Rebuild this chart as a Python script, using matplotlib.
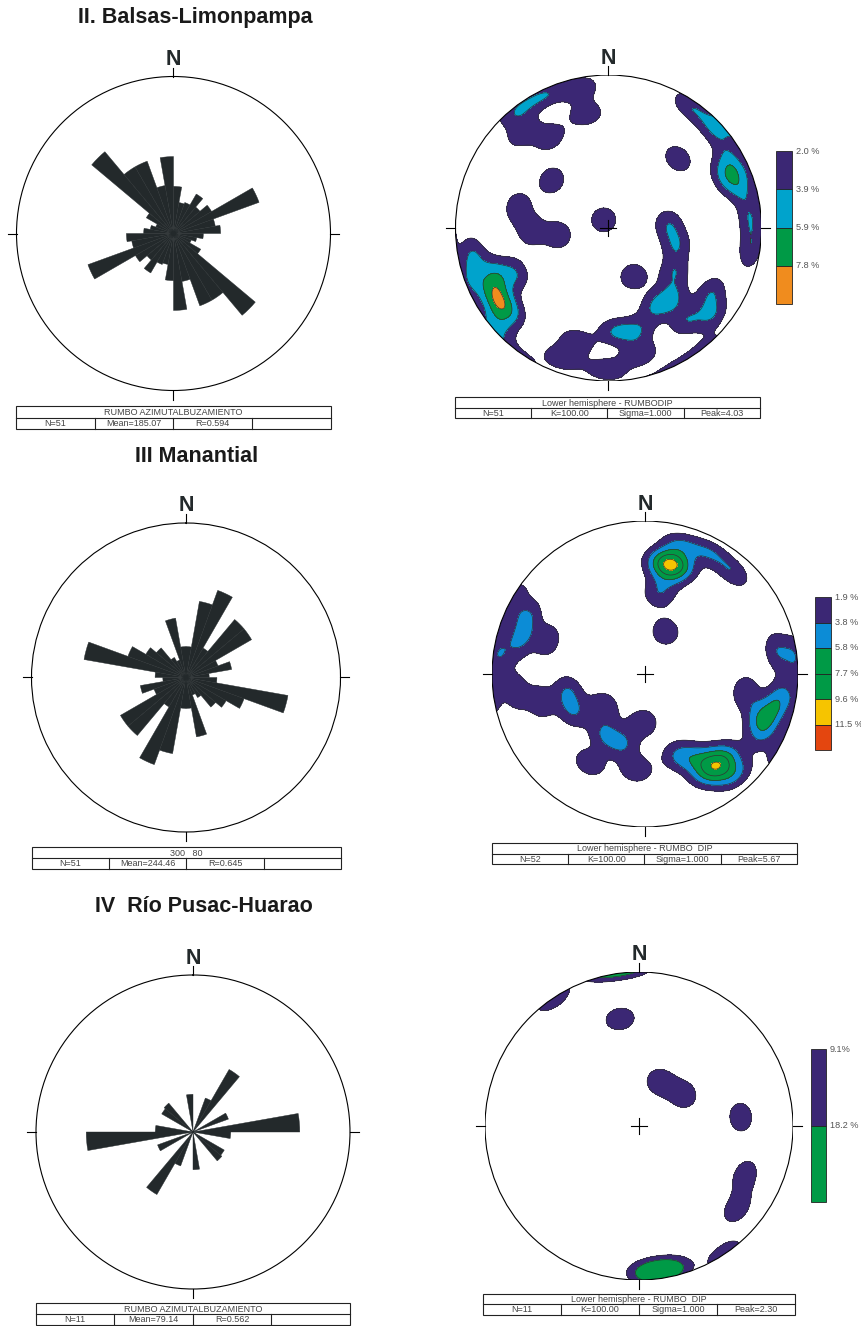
import numpy as np
import matplotlib
matplotlib.use('Agg')
import matplotlib.pyplot as plt
from matplotlib.patches import Circle, Rectangle

W, H = 862, 1326
plt.rcParams['font.family'] = ['Liberation Sans', 'DejaVu Sans']

# ---- data ----
TITLES = ['II. Balsas-Limonpampa', 'III Manantial', 'IV  Río Pusac-Huarao']

# rose diagrams: petal length (fraction of outer circle) per 10 deg strike bin 0..170,
# the diagram is bidirectional so bins 180..350 repeat them
ROSE_BINS = np.arange(0, 180, 10)
ROSE1 = [0.30, 0.20, 0.21, 0.29, 0.22, 0.28, 0.58, 0.27, 0.30, 0.19, 0.15, 0.12, 0.20, 0.68, 0.49, 0.49, 0.31, 0.49]
ROSE2 = [0.20, 0.50, 0.60, 0.22, 0.49, 0.49, 0.22, 0.30, 0.15, 0.20, 0.67, 0.40, 0.30, 0.25, 0.15, 0.12, 0.39, 0.20]
ROSE3 = [0.00, 0.00, 0.23, 0.46, 0.00, 0.00, 0.24, 0.00, 0.68, 0.24, 0.00, 0.00, 0.23, 0.24, 0.00, 0.00, 0.00, 0.24]
ROSE_HEAD = ['RUMBO AZIMUTALBUZAMIENTO', '300   80', 'RUMBO AZIMUTALBUZAMIENTO']
ROSE_STATS = [['N=51', 'Mean=185.07', 'R=0.594', ''],
              ['N=51', 'Mean=244.46', 'R=0.645', ''],
              ['N=11', 'Mean=79.14', 'R=0.562', '']]

# poles to planes (trend, plunge in degrees), lower hemisphere
P1_TREND = [322, 334, 327, 349, 348, 318, 34, 47, 62, 72, 66, 86, 99, 330, 310, 45, 283, 268, 262,
            248, 241, 236, 229, 259, 249, 244, 230,
            86, 104, 124, 138, 149, 153, 122, 130, 140, 165, 177, 196, 200, 181, 166]
P1_PLUNGE = [3, 4, 30, 25, 8, 17, 5, 7, 10, 11, 19, 8, 7, 85, 50, 36, 39, 48, 63,
             22, 17, 13, 5, 11, 6, 33, 18,
             58, 52, 47, 38, 40, 61, 22, 12, 22, 31, 33, 24, 10, 8, 16]
P2_TREND = [8, 18, 13, 13, 10, 15, 28, 41, 26, 285, 296, 289, 299, 278, 80, 83,
            242, 258, 262, 255, 232, 198, 214, 182, 212, 185,
            136, 148, 142, 142, 158, 150, 106, 116, 111, 100, 100, 138]
P2_PLUNGE = [27, 27, 25, 33, 46, 13, 11, 13, 65, 17, 16, 33, 2, 5, 14, 2,
             46, 47, 16, 30, 62, 50, 51, 64, 32, 37,
             25, 25, 20, 30, 43, 36, 15, 15, 23, 10, 34, 12]
P3_TREND = [177, 172, 167, 326, 350, 25, 55, 85, 115, 130]
P3_PLUNGE = [5, 6, 5, 0, 30, 64, 61, 34, 25, 18]

NET_N = [51, 52, 11]
LEVELS = [[2.0, 3.9, 5.9, 7.8],
          [1.9, 3.8, 5.8, 7.7, 9.6, 11.5],
          [9.1, 18.2]]
LEVEL_LABELS = [['2.0 %', '3.9 %', '5.9 %', '7.8 %'],
                ['1.9 %', '3.8 %', '5.8 %', '7.7 %', '9.6 %', '11.5 %'],
                ['9.1%', '18.2 %']]
NET_HEAD = ['Lower hemisphere - RUMBODIP', 'Lower hemisphere - RUMBO  DIP', 'Lower hemisphere - RUMBO  DIP']
NET_STATS = [['N=51', 'K=100.00', 'Sigma=1.000', 'Peak=4.03'],
             ['N=52', 'K=100.00', 'Sigma=1.000', 'Peak=5.67'],
             ['N=11', 'K=100.00', 'Sigma=1.000', 'Peak=2.30']]

PURPLE = '#3b2774'
CYAN = '#00a3cc'
BLUE = '#0c8cd6'
GREEN = '#009a46'
ORANGE = '#f08c1e'
YELLOW = '#f6c400'
RED = '#e4460f'
DARK = '#23292b'
LEVEL_COLORS = [[PURPLE, CYAN, GREEN, ORANGE],
                [PURPLE, BLUE, GREEN, GREEN, YELLOW, RED],
                [PURPLE, GREEN]]

KAPPA = 85.0   # counting kernel concentration
SCALE = 1.7

# ---- layout, pixels from top-left ----
TITLE_XY = [(195, 17), (196.5, 457), (204, 907)]
ROSE_C = [(173.5, 233.5, 157), (186, 677.5, 154.5), (193, 1132, 157)]
NET_C = [(608.5, 228, 153), (645, 674, 153), (639, 1126, 154)]
ROSE_TAB = [(16, 331, 406, 418, 429), (32, 341, 847, 858, 869), (36, 350, 1303, 1314, 1325)]
NET_TAB = [(455, 760, 397, 408, 418), (492, 797, 843, 853.5, 864), (483, 795, 1294, 1304, 1315)]
CBAR = [(776, 792, 151, 304), (815, 831, 597, 750), (811, 826, 1049, 1202)]

fig = plt.figure(figsize=(W / 100, H / 100), dpi=100)
cv = fig.add_axes([0, 0, 1, 1], zorder=-1)
cv.set_xlim(0, W)
cv.set_ylim(H, 0)
cv.axis('off')


def circle_axes(cx, cy, r, **kw):
    return fig.add_axes([(cx - r) / W, 1 - (cy + r) / H, 2 * r / W, 2 * r / H], **kw)


def to_vec(trend, plunge):
    t = np.deg2rad(trend)
    p = np.deg2rad(plunge)
    return np.stack([np.cos(p) * np.sin(t), np.cos(p) * np.cos(t), -np.sin(p)], axis=-1)


def draw_table(box, head, cells):
    x0, x1, y0, ym, y1 = box
    cv.add_patch(Rectangle((x0, y0), x1 - x0, y1 - y0, fill=False, lw=0.8, ec='#222222'))
    cv.plot([x0, x1], [ym, ym], color='#222222', lw=0.8)
    for i in range(1, 4):
        xc = x0 + (x1 - x0) * i / 4
        cv.plot([xc, xc], [ym, y1], color='#222222', lw=0.8)
    cv.text((x0 + x1) / 2, (y0 + ym) / 2 + 0.5, head, ha='center', va='center', fontsize=6.5, color='#444444')
    for i, s in enumerate(cells):
        cv.text(x0 + (x1 - x0) * (i + 0.5) / 4, (ym + y1) / 2 + 0.5, s, ha='center', va='center',
                fontsize=6.5, color='#444444')


def draw_rose(k, lengths):
    cx, cy, r = ROSE_C[k]
    ax = circle_axes(cx, cy, r, projection='polar')
    ax.set_theta_zero_location('N')
    ax.set_theta_direction(-1)
    bins = np.r_[ROSE_BINS, ROSE_BINS + 180] + 5
    ax.bar(np.deg2rad(bins), np.r_[lengths, lengths], width=np.deg2rad(10), bottom=0,
           color=DARK, edgecolor=DARK, linewidth=0.3)
    ax.set_ylim(0, 1)
    ax.grid(False)
    ax.set_xticks([])
    ax.set_yticks([])
    ax.spines['polar'].set_linewidth(0.8)
    for a in [0, 90, 180, 270]:
        ax.plot([np.deg2rad(a)] * 2, [1, 1 + 9 / r], color='k', lw=0.8, clip_on=False)
    ax.text(0, 1 + 17 / r, 'N', ha='center', va='center', fontsize=15.5, fontweight='bold',
            color=DARK, clip_on=False)


def draw_net(k, trend, plunge):
    cx, cy, r = NET_C[k]
    ax = circle_axes(cx, cy, r)
    ax.set_xlim(-1, 1)
    ax.set_ylim(-1, 1)
    ax.axis('off')

    # density of poles on the sphere (axial exponential kernel), in % of poles
    g = np.linspace(-1.02, 1.02, 361)
    X, Y = np.meshgrid(g, g)
    rr = np.clip(np.hypot(X, Y), 0, 1)
    theta = 2 * np.arcsin(rr / np.sqrt(2))
    gv = to_vec(np.rad2deg(np.arctan2(X, Y)), 90 - np.rad2deg(theta))
    pv = to_vec(np.array(trend, float), np.array(plunge, float))
    dots = np.abs(gv.reshape(-1, 3) @ pv.T)
    dens = SCALE * np.exp(KAPPA * (dots - 1)).sum(axis=1).reshape(X.shape)
    pct = dens * 100 / NET_N[k]

    clip = Circle((0, 0), 1, transform=ax.transData)
    cf = ax.contourf(X, Y, pct, levels=LEVELS[k] + [1e6], colors=LEVEL_COLORS[k], zorder=1)
    cf.set_clip_path(clip)
    cl = ax.contour(X, Y, pct, levels=LEVELS[k], colors='#333333', linewidths=0.5, zorder=2)
    cl.set_clip_path(clip)

    ax.add_patch(Circle((0, 0), 1, fill=False, lw=0.8, ec='k', zorder=3))
    t = 9 / r
    for x0, y0, x1, y1 in [(0, 1, 0, 1 + t), (1, 0, 1 + t, 0), (0, -1, 0, -1 - t), (-1, 0, -1 - t, 0)]:
        ax.plot([x0, x1], [y0, y1], color='k', lw=0.8, clip_on=False)
    c = 8 / r
    ax.plot([-c, c], [0, 0], color='k', lw=0.8, zorder=4)
    ax.plot([0, 0], [-c, c], color='k', lw=0.8, zorder=4)
    ax.text(0, 1 + 17 / r, 'N', ha='center', va='center', fontsize=15.5, fontweight='bold',
            color=DARK, clip_on=False)

    x0, x1, y0, y1 = CBAR[k]
    n = len(LEVELS[k])
    seg = (y1 - y0) / n
    for i in range(n):
        cv.add_patch(Rectangle((x0, y0 + i * seg), x1 - x0, seg, fc=LEVEL_COLORS[k][i], ec='#222222', lw=0.6))
        cv.text(x1 + 4, y0 + i * seg, LEVEL_LABELS[k][i], ha='left', va='center', fontsize=6.6, color='#555555')


for k, lengths in enumerate([ROSE1, ROSE2, ROSE3]):
    cv.text(*TITLE_XY[k], TITLES[k], ha='center', va='center', fontsize=15.5, fontweight='bold', color='#1a1a1a')
    draw_rose(k, lengths)
    draw_table(ROSE_TAB[k], ROSE_HEAD[k], ROSE_STATS[k])

for k, (tr, pl) in enumerate([(P1_TREND, P1_PLUNGE), (P2_TREND, P2_PLUNGE), (P3_TREND, P3_PLUNGE)]):
    draw_net(k, tr, pl)
    draw_table(NET_TAB[k], NET_HEAD[k], NET_STATS[k])

fig.savefig('out.png', dpi=100)
